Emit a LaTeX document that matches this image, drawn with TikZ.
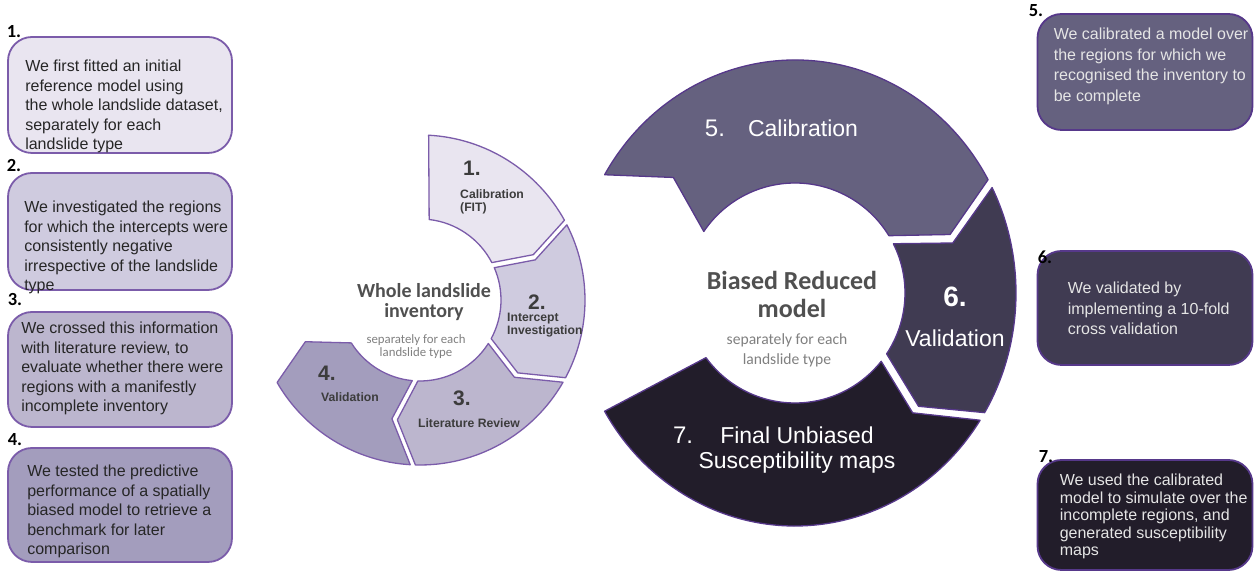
\documentclass[tikz,border=0pt]{standalone}
\usepackage{fontspec}
\setmainfont{Liberation Sans}
\newfontfamily\calibri{Carlito}
\usepackage{tikz}
\usetikzlibrary{positioning}
\usepackage{xcolor}
\definecolor{ringline}{HTML}{7B5CAA}
\definecolor{darkline}{HTML}{56388A}
\definecolor{segA}{HTML}{E9E5F0}
\definecolor{segB}{HTML}{CFCBDF}
\definecolor{segC}{HTML}{BCB6CE}
\definecolor{segD}{HTML}{A39DBD}
\definecolor{segE}{HTML}{65617F}
\definecolor{segF}{HTML}{403B52}
\definecolor{segG}{HTML}{221D2A}
\definecolor{inkgray}{HTML}{3C3C3C}
\definecolor{hubgray}{HTML}{505050}
\definecolor{notegray}{HTML}{808080}

\begin{document}
\begin{tikzpicture}[x=1pt,y=1pt,line join=round,
  leftbox/.style={draw=ringline,line width=1.8pt,rounded corners=24pt,minimum width=224pt,inner sep=0pt},
  rightbox/.style={draw=darkline,line width=1.8pt,rounded corners=24pt,minimum width=215pt,inner sep=0pt},
  boxtext/.style={inner sep=0pt,align=left,text=black!85,font=\fontsize{16}{19.5}\selectfont},
  lighttext/.style={inner sep=0pt,align=left,text=white!90!black,font=\fontsize{16}{20.5}\selectfont},
  steplabel/.style={inner sep=0pt,font=\calibri\bfseries\fontsize{18.5}{18.5}\selectfont},
  seg/.style={draw=ringline,line width=1.3pt},
  darkseg/.style={draw=darkline,line width=1.3pt},
  ringnum/.style={inner sep=0pt,text=inkgray,font=\bfseries\fontsize{21}{21}\selectfont},
  ringtxt/.style={inner sep=0pt,text=inkgray,align=left,font=\bfseries\fontsize{12.2}{13}\selectfont},
  bignum/.style={inner sep=0pt,text=white,font=\fontsize{24}{24}\selectfont},
  bigtxt/.style={inner sep=0pt,text=white,align=center,font=\fontsize{23}{25}\selectfont},
  hubtitle/.style={inner sep=0pt,text=hubgray,align=center},
  hubnote/.style={inner sep=0pt,text=notegray,align=center}]
\fill[white] (0,0) rectangle (1256,572);
\useasboundingbox (0,0) rectangle (1256,572);

% left column of notes
\node[leftbox,fill=segA,minimum height=116pt] (b1) at (120,477) {};
\node[leftbox,fill=segB,minimum height=117pt] (b2) at (120,340.5) {};
\node[leftbox,fill=segC,minimum height=115pt] (b3) at (120,202.5) {};
\node[leftbox,fill=segD,minimum height=114pt] (b4) at (120,67) {};
\node[steplabel] (n1) at (14,540) {1.};
\node[steplabel] (n2) at (14,406) {2.};
\node[steplabel] (n3) at (15,272) {3.};
\node[steplabel] (n4) at (15,132) {4.};
\node[boxtext,below right=24pt and 18pt of b1.north west] (t1) {We first fitted an initial\\reference model using\\the whole landslide dataset,\\separately for each\\landslide type};
\node[boxtext,below right=29pt and 17pt of b2.north west] (t2) {We investigated the regions\\for which the intercepts were\\consistently negative\\irrespective of the landslide\\type};
\node[boxtext,below right=11pt and 14pt of b3.north west] (t3) {We crossed this information\\with literature review, to\\evaluate whether there were\\regions with a manifestly\\incomplete inventory};
\node[boxtext,below right=18pt and 20pt of b4.north west] (t4) {We tested the predictive\\performance of a spatially\\biased model to retrieve a\\benchmark for later\\comparison};

% first cycle
\begin{scope}[shift={(420,272)}]
\fill[seg,fill=segA] (87:165pt) arc[start angle=87,end angle=28.9,radius=165pt] -- (21.8:122pt) -- (27.5:81pt) arc[start angle=27.5,end angle=83.5,radius=81pt] -- cycle;
\fill[seg,fill=segB] (27.1:165pt) arc[start angle=27.1,end angle=-28.1,radius=165pt] -- (-36.7:122pt) -- (-28.5:81pt) arc[start angle=-28.5,end angle=23.5,radius=81pt] -- (19.2:122pt) -- cycle;
\fill[seg,fill=segC] (-29.9:165pt) arc[start angle=-29.9,end angle=-91.6,radius=165pt] -- (-100.7:122pt) -- (-91.5:81pt) arc[start angle=-91.5,end angle=-32.5,radius=81pt] -- (-39.3:122pt) -- cycle;
\fill[seg,fill=segD] (-93.4:165pt) arc[start angle=-93.4,end angle=-150,radius=165pt] -- (-160:122pt) -- (-148:81pt) arc[start angle=-148,end angle=-95.5,radius=81pt] -- (-103.3:122pt) -- cycle;
\end{scope}
\node[ringnum] (c1) at (472,404) {1.};
\node[ringtxt,anchor=west] (c1t) at (460,370.5) {Calibration\\(FIT)};
\node[ringnum] (c2) at (537,270) {2.};
\node[ringtxt,anchor=west] (c2t) at (507,247) {Intercept\\Investigation};
\node[ringnum] (c3) at (462,174) {3.};
\node[ringtxt] (c3t) at (469,149) {Literature Review};
\node[ringnum] (c4) at (327,199) {4.};
\node[ringtxt] (c4t) at (350,175) {Validation};
\node[hubtitle,font=\calibri\bfseries\fontsize{20}{20}\selectfont] (hubL) at (424,270) {Whole landslide\\inventory};
\node[hubnote,font=\calibri\fontsize{12.8}{13.5}\selectfont] (noteL) at (416,225.5) {separately for each\\landslide type};

% second cycle
\begin{scope}[shift={(795,279)}]
\fill[darkseg,fill=segE] (149.5:221pt and 233pt) arc[start angle=149.5,end angle=29.1,x radius=221pt,y radius=233pt] -- (20:165pt and 171pt) -- (31.4:110pt) arc[start angle=31.4,end angle=146,radius=110pt] -- (137.5:165pt and 171pt) -- cycle;
\fill[darkseg,fill=segF] (26.9:221pt and 233pt) arc[start angle=26.9,end angle=-30.9,x radius=221pt,y radius=233pt] -- (-41.5:165pt and 171pt) -- (-33.6:110pt) arc[start angle=-33.6,end angle=26.6,radius=110pt] -- (17:165pt and 171pt) -- cycle;
\fill[darkseg,fill=segG] (-33.1:221pt and 233pt) arc[start angle=-33.1,end angle=-149.5,x radius=221pt,y radius=233pt] -- (-144:110pt) arc[start angle=-144,end angle=-38.4,radius=110pt] -- (-44.5:165pt and 171pt) -- cycle;
\end{scope}
\node[bignum] (c5) at (715,444) {5.};
\node[bigtxt] (c5t) at (803,444) {Calibration};
\node[bignum,font=\bfseries\fontsize{28}{28}\selectfont] (c6) at (955,275) {6.};
\node[bigtxt] (c6t) at (955,234) {Validation};
\node[bignum] (c7) at (683,137) {7.};
\node[bigtxt] (c7t) at (797,121.5) {Final Unbiased\\Susceptibility maps};
\node[hubtitle,font=\calibri\bfseries\fontsize{26}{28}\selectfont] (hubR) at (792,278) {Biased Reduced\\model};
\node[hubnote,font=\calibri\fontsize{15.6}{20}\selectfont] (noteR) at (787,222) {separately for each\\landslide type};

% right column of notes
\node[rightbox,fill=segE,minimum height=116pt] (b5) at (1145,500) {};
\node[rightbox,fill=segF,minimum height=114pt] (b6) at (1145,264) {};
\node[rightbox,fill=segG,minimum height=110pt] (b7) at (1145,57) {};
\node[steplabel] (n5) at (1036,561) {5.};
\node[steplabel] (n6) at (1045,315) {6.};
\node[steplabel] (n7) at (1046,115) {7.};
\node[lighttext,below right=15pt and 17pt of b5.north west] (t5) {We calibrated a model over\\the regions for which we\\recognised the inventory to\\be complete};
\node[lighttext,below right=32pt and 31pt of b6.north west] (t6) {We validated by\\implementing a 10-fold\\cross validation};
\node[lighttext,font=\fontsize{16}{17.5}\selectfont,below right=15pt and 23pt of b7.north west] (t7) {We used the calibrated\\model to simulate over the\\incomplete regions, and\\generated susceptibility\\maps};
\end{tikzpicture}
\end{document}
